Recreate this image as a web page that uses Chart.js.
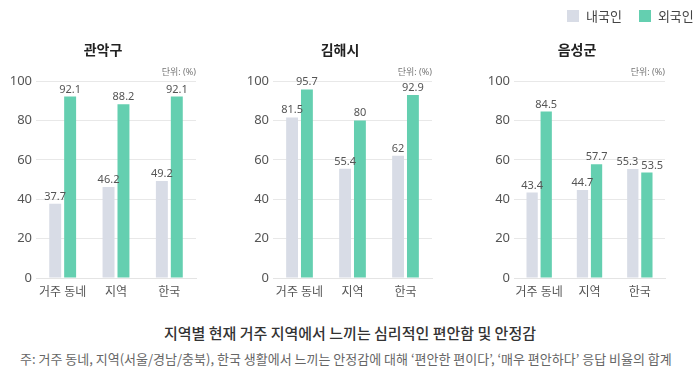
<!DOCTYPE html>
<html><head><meta charset="utf-8">
<script src="https://cdn.jsdelivr.net/npm/chart.js@4"></script>
<style>
html,body{margin:0;padding:0;background:#fff;}
body{width:700px;height:378px;position:relative;overflow:hidden;font-family:'Noto Sans','Noto Sans CJK KR',sans-serif;}
canvas{position:absolute;top:0;}
.legend{position:absolute;top:6px;left:567px;font-size:13px;color:#444;display:flex;align-items:center;white-space:nowrap;}
.legend span.sw{display:inline-block;width:12px;height:12px;margin-right:7px;}
.legend span.it{display:flex;align-items:center;margin-right:17px;}
.maintitle{position:absolute;left:0;width:700px;top:322px;text-align:center;font-size:15px;font-weight:500;color:#333;font-family:'Noto Sans CJK KR',sans-serif;}
.note{position:absolute;left:20px;top:349px;font-size:13px;color:#666;white-space:nowrap;font-family:'Noto Sans CJK KR',sans-serif;}
</style></head>
<body>
<canvas id="c1" width="206" height="300" style="left:0px"></canvas>
<canvas id="c2" width="205" height="300" style="left:237px"></canvas>
<canvas id="c3" width="195" height="300" style="left:480px"></canvas>
<div class="legend"><span class="it"><span class="sw" style="background:#d8dce6"></span>내국인</span><span class="it" style="margin-right:0"><span class="sw" style="background:#64cfb0"></span>외국인</span></div>
<div class="maintitle">지역별 현재 거주 지역에서 느끼는 심리적인 편안함 및 안정감</div>
<div class="note">주: 거주 동네, 지역(서울/경남/충북), 한국 생활에서 느끼는 안정감에 대해 ‘편안한 편이다’, ‘매우 편안하다’ 응답 비율의 합계</div>
<script>
const categories = ['거주 동네', '지역', '한국'];
const seriesNames = ['내국인', '외국인'];
const panelTitles = ['관악구', '김해시', '음성군'];
const gwanakDomestic = [37.7, 46.2, 49.2];
const gwanakForeign = [92.1, 88.2, 92.1];
const gimhaeDomestic = [81.5, 55.4, 62];
const gimhaeForeign = [95.7, 80, 92.9];
const eumseongDomestic = [43.4, 44.7, 55.3];
const eumseongForeign = [84.5, 57.7, 53.5];
const yTicks = [0, 20, 40, 60, 80, 100];
const unitLabel = '단위: (%)';

const colors = ['#d8dce6', '#64cfb0'];
const FONT = "'Noto Sans','Noto Sans CJK KR',sans-serif";

const panelText = {
  id: 'panelText',
  afterDatasetsDraw(chart, args, opts) {
    const ctx = chart.ctx;
    ctx.save();
    ctx.font = '11px ' + FONT;
    ctx.fillStyle = '#555';
    ctx.textAlign = 'center';
    ctx.textBaseline = 'alphabetic';
    const m0 = chart.getDatasetMeta(0), m1 = chart.getDatasetMeta(1);
    const d0 = chart.data.datasets[0].data, d1 = chart.data.datasets[1].data;
    m0.data.forEach((b0, j) => {
      const b1 = m1.data[j];
      const t0 = String(d0[j]), t1 = String(d1[j]);
      let x0 = b0.x, x1 = b1.x;
      const w0 = ctx.measureText(t0).width, w1 = ctx.measureText(t1).width;
      const gap = (x1 - w1 / 2) - (x0 + w0 / 2);
      if (Math.abs(b0.y - b1.y) < 13 && gap < 3) {
        const s = (3 - gap) / 2;
        x0 -= s; x1 += s;
      }
      ctx.fillText(t0, x0, b0.y - 4);
      ctx.fillText(t1, x1, b1.y - 4);
    });
    ctx.font = 'bold 14px ' + FONT;
    ctx.fillStyle = '#222';
    ctx.textBaseline = 'middle';
    ctx.fillText(opts.title, opts.titleX, 51);
    ctx.font = '9px ' + FONT;
    ctx.fillStyle = '#777';
    ctx.textAlign = 'right';
    ctx.fillText(unitLabel, chart.chartArea.right, chart.chartArea.top - 9);
    ctx.restore();
  }
};

function makeChart(id, dom, frn, title, yw, titleX) {
  return new Chart(document.getElementById(id), {
    type: 'bar',
    data: {
      labels: categories,
      datasets: [
        { label: seriesNames[0], data: dom, backgroundColor: colors[0] },
        { label: seriesNames[1], data: frn, backgroundColor: colors[1] }
      ]
    },
    options: {
      responsive: false,
      animation: false,
      devicePixelRatio: 1,
      categoryPercentage: 0.56,
      barPercentage: 0.8,
      layout: { padding: { top: 81, right: 10, bottom: 0, left: 0 } },
      plugins: {
        legend: { display: false },
        tooltip: { enabled: false },
        panelText: { title: title, titleX: titleX }
      },
      scales: {
        x: {
          grid: { display: false, drawTicks: false },
          border: { display: true, color: '#e4e4e4', width: 1 },
          ticks: { color: '#555', font: { size: 12, family: FONT }, padding: 7, maxRotation: 0, minRotation: 0, autoSkip: false },
          afterFit(s) { s.height = 22; }
        },
        y: {
          min: 0, max: 100,
          afterBuildTicks(s) { s.ticks = yTicks.map(v => ({ value: v })); },
          grid: { color: '#e8e8e8', drawTicks: false, lineWidth: 1 },
          border: { display: false },
          ticks: { color: '#555', font: { size: 13, family: FONT }, padding: 4 },
          afterFit(s) { s.width = yw; }
        }
      }
    },
    plugins: [panelText]
  });
}

makeChart('c1', gwanakDomestic, gwanakForeign, panelTitles[0], 36, 103);
makeChart('c2', gimhaeDomestic, gimhaeForeign, panelTitles[1], 36, 103);
makeChart('c3', eumseongDomestic, eumseongForeign, panelTitles[2], 34, 97);
</script>
</body></html>
